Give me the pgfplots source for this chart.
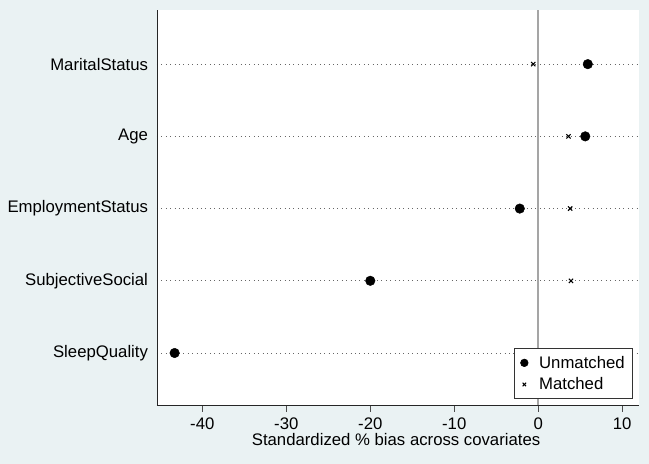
\documentclass[border=0pt]{standalone}
\usepackage{pgfplots}
\pgfplotsset{compat=1.18}
\usepackage{fontspec}
\setmainfont{Liberation Sans}
\definecolor{bgblue}{RGB}{234,242,243}
\definecolor{refgray}{RGB}{165,165,165}

% Standardized % bias, unmatched and matched samples (y = covariate row)
\pgfplotstableread{
y  unmatched  matched
5   5.9   -0.6
4   5.6    3.6
3  -2.2    3.8
2 -20.0    3.9
1 -43.3    4.5
}\biastable

\begin{document}
\begin{tikzpicture}[x=1bp,y=1bp]
\fill[bgblue] (-157,-59) rectangle (492,405);
\begin{axis}[
  at={(0,0)}, anchor=south west,
  scale only axis,
  width=482bp, height=395bp,
  xmin=-45.4, xmax=12.0,
  ymin=0.28, ymax=5.75,
  axis background/.style={fill=white},
  axis x line*=bottom, axis y line*=left,
  axis line style={black!85, line width=0.8pt, -},
  xtick={-40,-30,-20,-10,0,10},
  ytick={1,2,3,4,5},
  yticklabels={SleepQuality,SubjectiveSocial,EmploymentStatus,Age,MaritalStatus},
  tick style={black!70, line width=0.6pt},
  major tick length=7bp,
  tick align=outside,
  ytick style={draw=none},
  ymajorgrids,
  grid style={black!60, line width=0.7pt, dash pattern=on 0.8bp off 3.6bp},
  xticklabel style={anchor=base, yshift=-18bp, text depth=0pt, inner sep=0pt},
  yticklabel style={xshift=1.5bp},
  ticklabel style={font=\fontsize{16.8}{19}\selectfont},
  /pgf/number format/assume math mode=true,
  xlabel={Standardized \% bias across covariates},
  xlabel style={font=\fontsize{16.8}{19}\selectfont, inner sep=0pt,
    at={(axis description cs:0.496,0)}, anchor=base, yshift=-41bp},
  legend style={font=\fontsize{16.8}{19}\selectfont, draw=black!80, line width=0.6pt,
    fill=white, at={(0.9876,0.015)}, anchor=south east,
    row sep=4bp, inner xsep=6bp, inner ysep=5.5bp,
    /tikz/every odd column/.append style={column sep=9bp},
    /tikz/every even column/.append style={column sep=4bp}},
  legend cell align=left,
  clip=false,
]
\draw[refgray, line width=1.8pt] (axis cs:0,0.28) -- (axis cs:0,5.75);
\addplot[only marks, mark=*, mark size=4.8bp, black, forget plot]
  table[x=unmatched, y=y] {\biastable};
\addplot[only marks, mark=x, mark size=3bp, black, line width=1.1pt, forget plot]
  table[x=matched, y=y] {\biastable};
\addlegendimage{only marks, mark=*, mark size=3.8bp, black}
\addlegendentry{Unmatched}
\addlegendimage{only marks, mark=x, mark size=2.4bp, black, line width=1pt}
\addlegendentry{Matched}
\end{axis}
\end{tikzpicture}
\end{document}
